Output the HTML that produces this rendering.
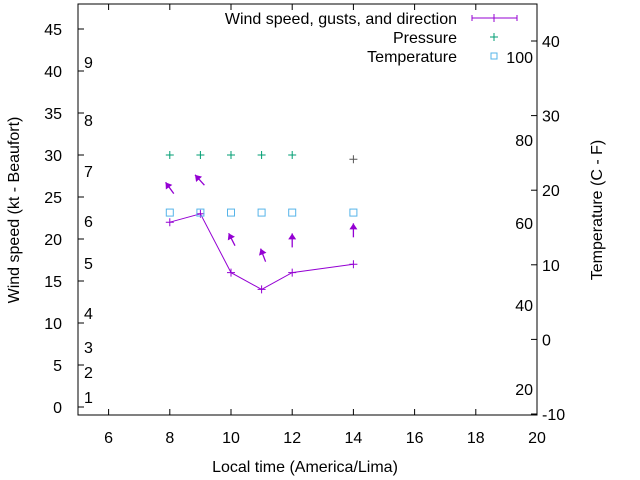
<!DOCTYPE html>
<html><head><meta charset="utf-8"><style>
body{margin:0;background:#fff}
svg{display:block;font-family:"Liberation Sans",sans-serif}
</style></head><body>
<svg id="c" width="640" height="480"></svg>
<script>
const hours=[8,9,10,11,12,14];
const windKt=[22,23,16,14,16,17];
const arrowKt=[25.4,26.4,19.2,17.3,19.0,20.2];
const arrowDirDeg=[-36,-42,-27,-21,0,0];
const pressure=[30,30,30,30,30,29.5];
const tempC=[17,17,17,17,17,17];
const xTicks=[6,8,10,12,14,16,18,20];
const yTicks=[0,5,10,15,20,25,30,35,40,45];
const y2Ticks=[-10,0,10,20,30,40];
const beaufort=[[1,397],[2,372],[3,347],[4,313],[5,263],[6,221],[7,171],[8,120],[9,62]];
const fahr=[[100,57],[80,140],[60,223],[40,305],[20,389]];
const L=78,R=537,T=4,B=415,FS=16;
const X=v=>L+(v-5)*(R-L)/15;
const Y=v=>407-v*8.4;
const Y2=v=>414-(v+10)*7.46;
const s=document.getElementById('c');
const NS='http://www.w3.org/2000/svg';
function mk(t,a,txt){const e=document.createElementNS(NS,t);for(const k in a)e.setAttribute(k,a[k]);if(txt!=null)e.textContent=txt;s.appendChild(e);return e;}
let e=mk('rect',{x:L,y:T,width:R-L,height:B-T,fill:'none',stroke:'#000'});


xTicks.forEach(v=>{mk('line',{x1:X(v),x2:X(v),y1:B,y2:B-6,stroke:'#000'});mk('line',{x1:X(v),x2:X(v),y1:T,y2:T+6,stroke:'#000'});
e=mk('text',{x:X(v),y:443,'text-anchor':'middle','font-size':FS},v);

});
yTicks.forEach(v=>{mk('line',{x1:L,x2:L+6,y1:Y(v),y2:Y(v),stroke:'#000'});
e=mk('text',{x:62,y:Y(v)+6,'text-anchor':'end','font-size':FS},v);

});
y2Ticks.forEach(v=>{mk('line',{x1:R-6,x2:R,y1:Y2(v),y2:Y2(v),stroke:'#000'});
e=mk('text',{x:542,y:Y2(v)+6,'font-size':FS},v);

});
beaufort.forEach(b=>{e=mk('text',{x:84,y:b[1]+6,'font-size':FS},b[0]);

});
fahr.forEach(f=>{e=mk('text',{x:533,y:f[1]+6,'text-anchor':'end','font-size':FS},f[0]);

});
e=mk('text',{x:305,y:472,'text-anchor':'middle','font-size':FS},'Local time (America/Lima)');


e=mk('text',{x:0,y:0,'text-anchor':'middle','font-size':FS,transform:'translate(19,210) rotate(-90)'},'Wind speed (kt - Beaufort)');


e=mk('text',{x:0,y:0,'text-anchor':'middle','font-size':FS,transform:'translate(602,210) rotate(-90)'},'Temperature (C - F)');


const P='#9400d3',G='#009e73',Bl='#56b4e9';
e=mk('polyline',{points:hours.map((h,i)=>X(h)+','+Y(windKt[i])).join(' '),fill:'none',stroke:P});


hours.forEach((h,i)=>{const x=X(h),y=Y(windKt[i]);
e=mk('path',{d:`M${x-4},${y}H${x+4}M${x},${y-4}V${y+4}`,stroke:P});


const a=arrowDirDeg[i]*Math.PI/180,tx=X(h)+(arrowDirDeg[i]?4:0),ty=Y(arrowKt[i]);
const len=14,hx=tx+len*Math.sin(a),hy=ty-len*Math.cos(a);
const g=mk('g',{});


const ln=document.createElementNS(NS,'line');ln.setAttribute('x1',tx);ln.setAttribute('y1',ty);ln.setAttribute('x2',hx);ln.setAttribute('y2',hy);ln.setAttribute('stroke',P);ln.setAttribute('stroke-width',1.3);g.appendChild(ln);
const ux=Math.sin(a),uy=-Math.cos(a),px=-uy,py=ux;
const tri=document.createElementNS(NS,'polygon');
tri.setAttribute('points',`${hx},${hy} ${hx-6*ux+4*px},${hy-6*uy+4*py} ${hx-6*ux-4*px},${hy-6*uy-4*py}`);tri.setAttribute('fill',P);g.appendChild(tri);
e=mk('path',{d:`M${x-4},${Y(pressure[i])}h8M${x},${Y(pressure[i])-4}v8`,stroke:i==5?'#555':G});


e=mk('rect',{x:x-3.5,y:Y2(tempC[i])-3.5,width:7,height:7,fill:'none',stroke:Bl});

});
const lg=[['Wind speed, gusts, and direction',18],['Pressure',37],['Temperature',56]];
lg.forEach(l=>{e=mk('text',{x:457,y:l[1]+6,'text-anchor':'end','font-size':FS},l[0]);

});
e=mk('path',{d:'M472,18H517M472,15v6M517,15v6M494,14v8',stroke:P});


e=mk('path',{d:'M490,37h8M494,33v8',stroke:G});


e=mk('rect',{x:491,y:53,width:6,height:6,fill:'none',stroke:Bl});


</script>
</body></html>
